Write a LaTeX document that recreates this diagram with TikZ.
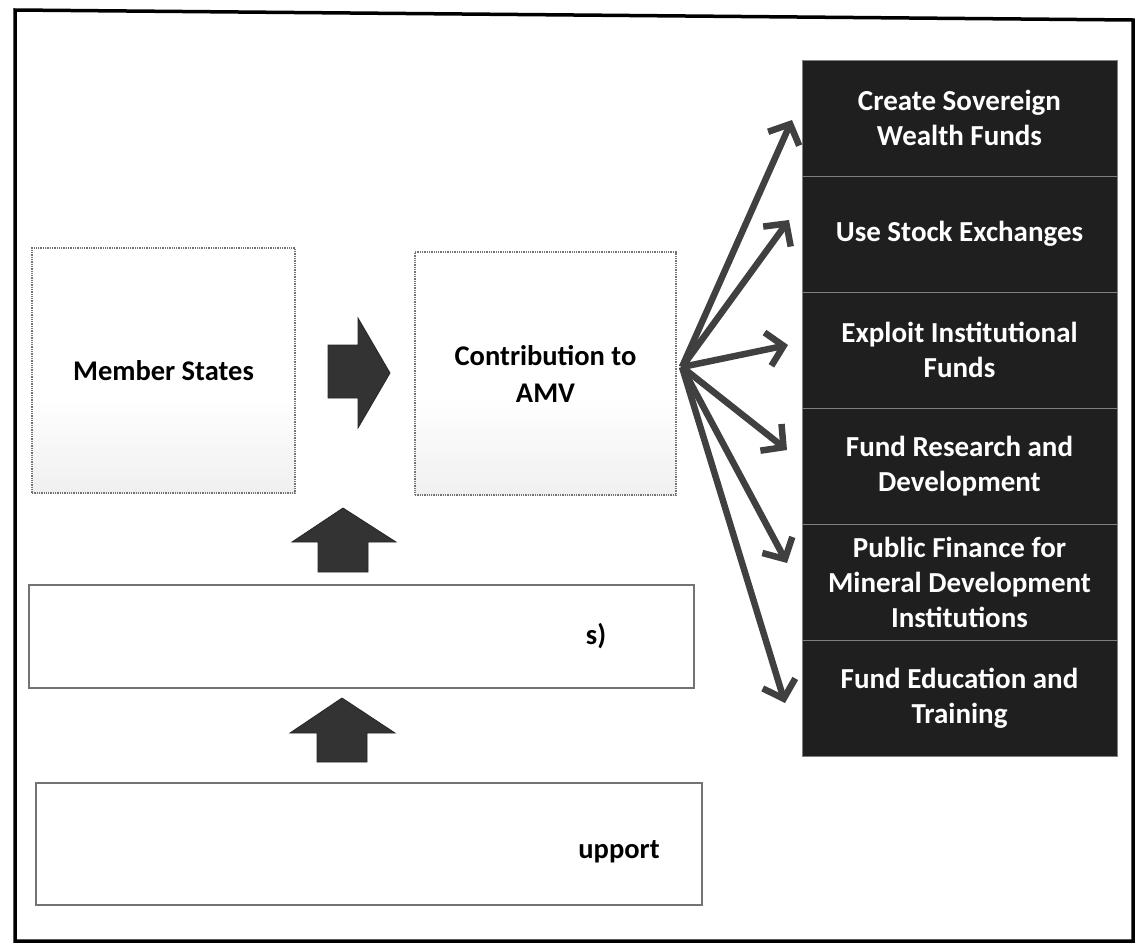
\documentclass[tikz,border=0pt]{standalone}
\usepackage{fontspec}
\setmainfont{Carlito}
\usetikzlibrary{arrows.meta}
\pgfdeclareverticalshading{boxfade}{100bp}{color(0bp)=(black!16); color(25bp)=(black!6); color(45bp)=(white); color(100bp)=(white)}
\begin{document}
\begin{tikzpicture}[x=1pt,y=-1pt,
  lightbox/.style={draw=black!55, densely dotted, line width=1.3pt, shading=boxfade, inner sep=0pt, font=\bfseries\fontsize{28.5}{37}\selectfont, align=center},
  widebox/.style={draw=black!55, line width=2.6pt, fill=white, inner sep=0pt},
  darkbox/.style={fill=black!88, draw=black!50, line width=0.8pt, minimum width=315pt, minimum height=116pt, inner sep=0pt, text=white, font=\bfseries\fontsize{29}{35}\selectfont, align=center},
  blockarrow/.style={fill=black!80, draw=black!85, line width=0.8pt},
  fanarrow/.style={draw=black!75, line width=6.5pt, -{Straight Barb[length=16pt,width=34pt]}},
  plain/.style={font=\bfseries\fontsize{28.5}{36}\selectfont, inner sep=0pt}
]
\useasboundingbox (0,0) rectangle (1141,951);
\fill[white] (0,0) rectangle (1141,951);
% outer frame
\draw[line width=3.5pt, line join=miter] (15,10) -- (1133,20) -- (1133,941) -- (15,941) -- cycle;

% left boxes
\node[lightbox, minimum width=263pt, minimum height=245pt] (ms) at (163.5,370.5) {Member States};
\node[lightbox, minimum width=261pt, minimum height=243pt] (c) at (545.5,373.5) {Contribution to\\AMV};

% wide boxes
\node[widebox, minimum width=665pt, minimum height=103pt] (mid) at (361.5,636.5) {};
\node[plain] (midt) at (596,636) {s)};
\node[widebox, minimum width=666pt, minimum height=122pt] (bot) at (369,844) {};
\node[plain] (bott) at (619,852) {upport};

% dark column
\node[darkbox] (d1) at (959.5,118) {Create Sovereign\\Wealth Funds};
\node[darkbox] (d2) at (959.5,234) {Use Stock Exchanges};
\node[darkbox] (d3) at (959.5,350) {Exploit Institutional\\Funds};
\node[darkbox] (d4) at (959.5,466) {Fund Research and\\Development};
\node[darkbox] (d5) at (959.5,582) {Public Finance for\\Mineral Development\\Institutions};
\node[darkbox] (d6) at (959.5,698) {Fund Education and\\Training};

% block arrows
\draw[blockarrow] (328,345) -- (358,345) -- (358,318) -- (390,373) -- (358,428) -- (358,398) -- (328,398) -- cycle;
\draw[blockarrow] (318,572) -- (318,542) -- (292,542) -- (343,508) -- (396,542) -- (368,542) -- (368,572) -- cycle;
\draw[blockarrow] (317,762) -- (317,733) -- (290,733) -- (342,698) -- (395,733) -- (367,733) -- (367,762) -- cycle;

% fan arrows
\coordinate (src) at (682,367);
\coordinate (t1) at (792,120);
\coordinate (t2) at (789,220);
\coordinate (t3) at (788,345);
\coordinate (t4) at (787,450);
\coordinate (t5) at (787,563);
\coordinate (t6) at (785,703);
\foreach \t in {t1,t2,t3,t4,t5,t6}{\draw[fanarrow] (src) -- (\t);}
\end{tikzpicture}
\end{document}
